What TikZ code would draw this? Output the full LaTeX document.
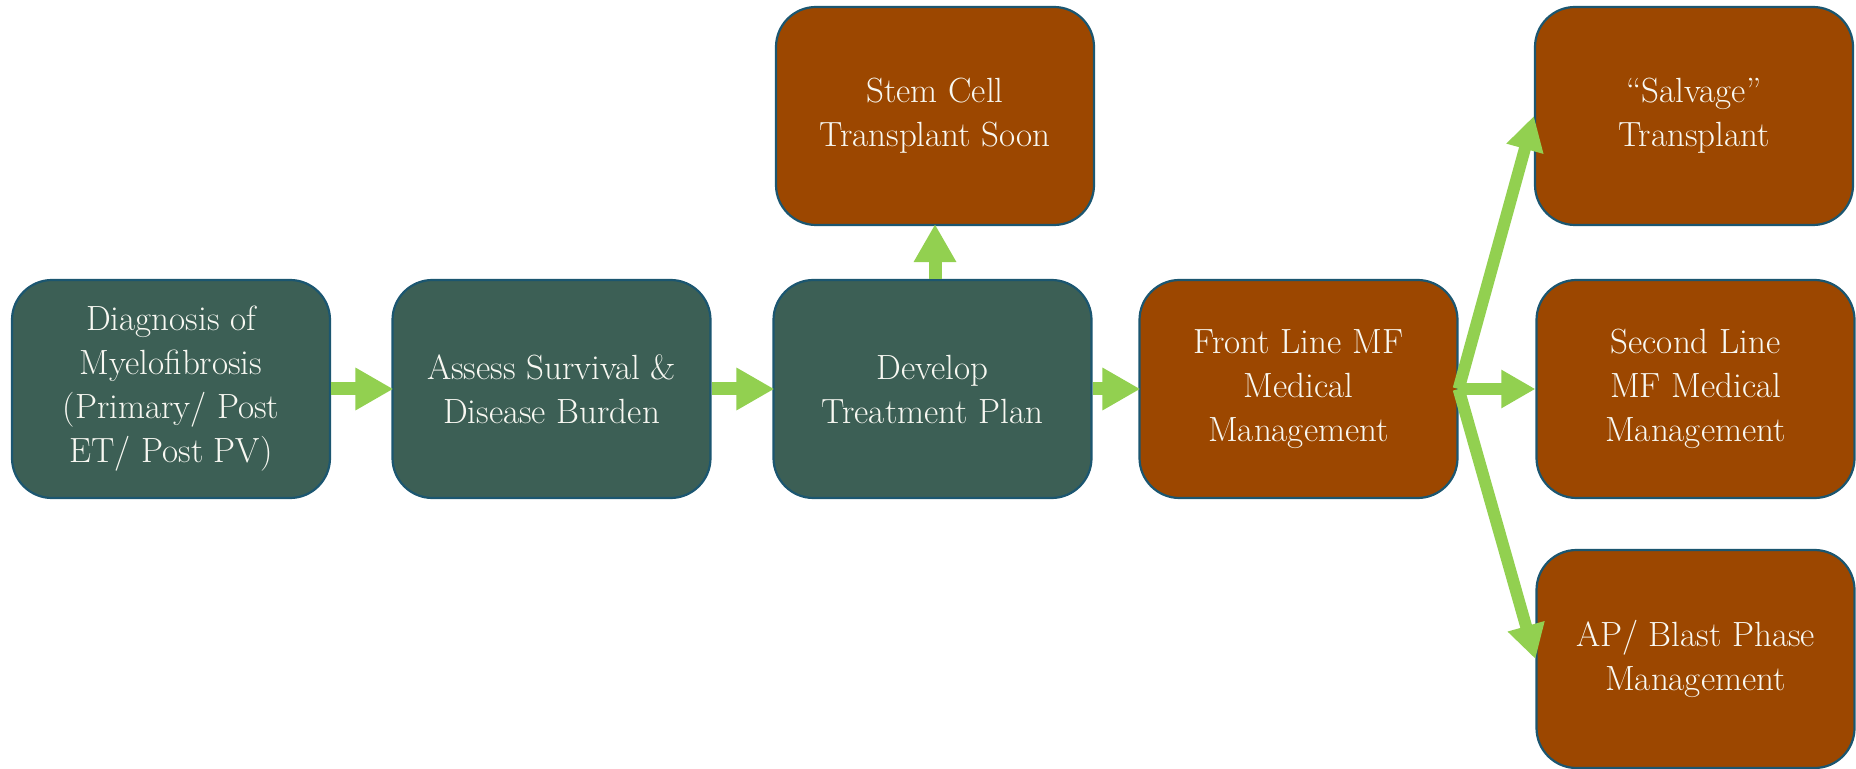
\documentclass[tikz,border=0pt]{standalone}
\usetikzlibrary{arrows.meta}
\definecolor{boxgreen}{HTML}{3C5F55}
\definecolor{boxbrown}{HTML}{9C4700}
\definecolor{boxline}{HTML}{1B5670}
\definecolor{arrgreen}{HTML}{92D050}
\definecolor{txt}{HTML}{F8F8F2}
\begin{document}
\begin{tikzpicture}[x=0.5pt,y=-0.5pt,
  box/.style={draw=boxline,line width=1.1pt,rounded corners=20pt,
    minimum width=159pt,minimum height=109pt,align=center,text=txt,
    font=\fontsize{17.5}{22}\selectfont,inner sep=2pt},
  gbox/.style={box,fill=boxgreen},
  bbox/.style={box,fill=boxbrown},
  arr/.style={draw=arrgreen,line width=6.5pt,
    -{Triangle[width=20pt,length=19pt]},shorten >=-1pt},
  darr/.style={draw=arrgreen,line width=6pt,
    -{Triangle[width=18pt,length=17pt]}},
]
\useasboundingbox (0,0) rectangle (1856,769);
\node[gbox] (b1) at (171,389) {Diagnosis of\\Myelofibrosis\\(Primary/ Post\\ET/ Post PV)};
\node[gbox] (b2) at (551.5,389) {Assess Survival \&\\Disease Burden};
\node[gbox] (b3) at (932.5,389) {Develop\\Treatment Plan};
\node[bbox] (stem) at (935,116) {Stem Cell\\Transplant Soon};
\node[bbox] (fl) at (1298.5,389) {Front Line MF\\Medical\\Management};
\node[bbox] (salv) at (1694,116) {``Salvage''\\Transplant};
\node[bbox] (sl) at (1695.5,389) {Second Line\\MF Medical\\Management};
\node[bbox] (ap) at (1695.5,659) {AP/ Blast Phase\\Management};
\draw[arr] (b1.east) -- (b2.west);
\draw[arr] (b2.east) -- (b3.west);
\draw[arr] (b3.east) -- (fl.west);
\draw[arr] (b3.north -| stem.south) -- (stem.south);
\draw[darr] (fl.east) -- (salv.west);
\draw[darr] (fl.east) -- (sl.west);
\draw[darr] (fl.east) -- (ap.west);
\end{tikzpicture}
\end{document}
